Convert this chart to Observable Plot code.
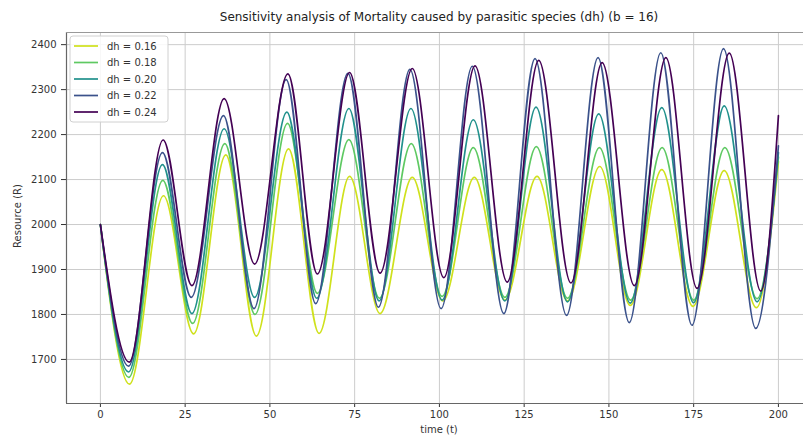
<!DOCTYPE html>
<html><head><meta charset="utf-8">
<script src="https://cdn.jsdelivr.net/npm/d3@7"></script>
<script src="https://cdn.jsdelivr.net/npm/@observablehq/plot@0.6"></script>
<style>body{margin:0;background:#fff;} #chart{width:803px;height:438px;}</style>
</head><body><div id="chart"></div>
<script>
const titleText = "Sensitivity analysis of Mortality caused by parasitic species (dh) (b = 16)";
const xLabel = "time (t)";
const yLabel = "Resource (R)";
const xTicks = [0, 25, 50, 75, 100, 125, 150, 175, 200];
const yTicks = [1700, 1800, 1900, 2000, 2100, 2200, 2300, 2400];
const seriesLabels = ["dh = 0.16", "dh = 0.18", "dh = 0.20", "dh = 0.22", "dh = 0.24"];
const seriesColors = ["#cfe11c", "#5ec962", "#21918c", "#3b528b", "#440154"];

const tDh016 = [0, 8.6, 18.6, 27.5, 37, 46, 55.5, 64.5, 73.5, 82.5, 92, 101, 110.3, 119.3, 128.8, 137.8, 147.3, 156.3, 165.6, 174.8, 184, 193.5, 200];
const rDh016 = [2000, 1645, 2064, 1757, 2155, 1752, 2168, 1758, 2107, 1802, 2105, 1830, 2105, 1832, 2107, 1830, 2129, 1820, 2122, 1818, 2120, 1815, 2140];
const tDh018 = [0, 8.4, 18.4, 27.2, 36.7, 45.6, 55.2, 64, 73.3, 82.3, 91.7, 100.8, 110, 119.3, 128.6, 137.8, 147.2, 156.4, 165.7, 175, 184.2, 193.7, 200];
const rDh018 = [2000, 1660, 2098, 1780, 2180, 1800, 2225, 1847, 2189, 1836, 2180, 1840, 2171, 1838, 2173, 1836, 2171, 1832, 2171, 1832, 2171, 1835, 2150];
const tDh020 = [0, 8.3, 18.3, 27, 36.5, 45.5, 55, 63.8, 73.3, 82.2, 91.6, 100.8, 110, 119.3, 128.5, 137.8, 147, 156.3, 165.6, 175, 184, 193.7, 200];
const rDh020 = [2000, 1672, 2133, 1802, 2213, 1838, 2250, 1836, 2258, 1830, 2258, 1832, 2233, 1830, 2261, 1828, 2246, 1825, 2260, 1826, 2264, 1828, 2160];
const tDh022 = [0, 8.3, 18.3, 26.8, 36.3, 45.3, 54.8, 63.5, 73, 82, 91.3, 100.5, 109.7, 119, 128.2, 137.5, 146.8, 156, 165.3, 174.5, 183.8, 193.3, 200];
const rDh022 = [2000, 1685, 2160, 1838, 2242, 1813, 2322, 1824, 2336, 1816, 2345, 1813, 2352, 1802, 2369, 1798, 2371, 1782, 2382, 1776, 2391, 1769, 2175];
const tDh024 = [0, 8.5, 18.5, 27, 36.5, 45.5, 55.3, 64, 73.5, 82.5, 92, 101.3, 110.5, 120, 129.3, 138.8, 148, 157.5, 166.8, 176, 185.5, 194.8, 200];
const rDh024 = [2000, 1694, 2188, 1864, 2280, 1912, 2335, 1890, 2338, 1892, 2347, 1882, 2353, 1872, 2365, 1870, 2360, 1864, 2371, 1858, 2381, 1852, 2242];

const seriesT = [tDh016, tDh018, tDh020, tDh022, tDh024];
const seriesR = [rDh016, rDh018, rDh020, rDh022, rDh024];
const rows = [];
seriesLabels.forEach((s, i) => seriesT[i].forEach((t, j) => rows.push({series: s, t, r: seriesR[i][j]})));

const xDom = [-10, 207.4];
const yDom = [1602, 2427];

const chart = Plot.plot({
  width: 803, height: 438,
  marginLeft: 66, marginRight: 0, marginTop: 32, marginBottom: 35,
  style: {fontFamily: "DejaVu Sans", fontSize: "10px", color: "#333", background: "#fff"},
  x: {domain: xDom, ticks: xTicks, tickSize: 4, tickPadding: 3, tickFormat: "d", label: null},
  y: {domain: yDom, ticks: yTicks, tickSize: 5, tickPadding: 5, tickFormat: "d", label: null},
  color: {domain: seriesLabels, range: seriesColors},
  marks: [
    Plot.gridX(xTicks, {stroke: "#cccccc", strokeOpacity: 1, strokeWidth: 1}),
    Plot.gridY(yTicks, {stroke: "#cccccc", strokeOpacity: 1, strokeWidth: 1}),
    Plot.ruleX([xDom[0]], {stroke: "#666", strokeWidth: 1.2}),
    Plot.ruleY([yDom[0]], {stroke: "#666", strokeWidth: 1.2}),
    Plot.ruleY([yDom[1]], {stroke: "#999", strokeWidth: 1}),
    Plot.line(rows, {x: "t", y: "r", z: "series", stroke: "series", curve: "monotone-x", strokeWidth: 1.7})
  ]
});
document.getElementById("chart").appendChild(chart);

const svg = d3.select(chart);
svg.append("text").attr("x", 439).attr("y", 17).attr("text-anchor", "middle").attr("dominant-baseline", "central")
  .attr("font-size", 12).attr("fill", "#222").text(titleText);
svg.append("text").attr("x", 439).attr("y", 429).attr("text-anchor", "middle").attr("dominant-baseline", "central")
  .attr("font-size", 10).attr("fill", "#333").text(xLabel);
svg.append("text").attr("transform", "translate(17,216) rotate(-90)").attr("text-anchor", "middle").attr("dominant-baseline", "central")
  .attr("font-size", 10).attr("fill", "#333").text(yLabel);

const lg = svg.append("g");
lg.append("rect").attr("x", 70).attr("y", 36).attr("width", 98).attr("height", 86).attr("rx", 3)
  .attr("fill", "#fff").attr("fill-opacity", 0.85).attr("stroke", "#d0d0d0");
seriesLabels.forEach((s, i) => {
  const yy = 46 + i * 16.5;
  lg.append("line").attr("x1", 74).attr("x2", 98).attr("y1", yy).attr("y2", yy)
    .attr("stroke", seriesColors[i]).attr("stroke-width", 1.7);
  lg.append("text").attr("x", 107).attr("y", yy).attr("text-anchor", "start").attr("dominant-baseline", "central")
    .attr("font-size", 10).attr("fill", "#333").text(s);
});
</script>
</body></html>
